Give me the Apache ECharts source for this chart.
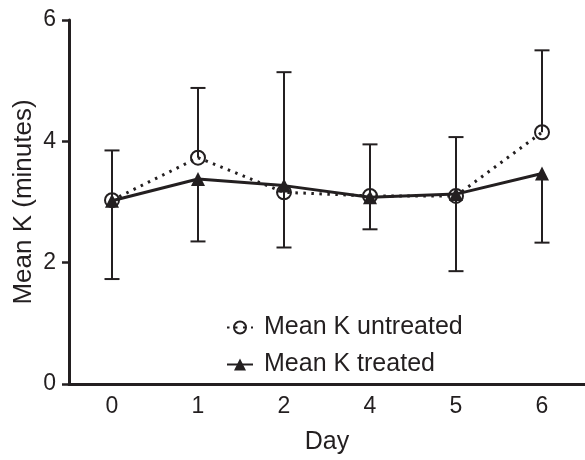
<!DOCTYPE html>
<html>
<head>
<meta charset="utf-8">
<title>Mean K by day</title>
<script src="https://cdn.jsdelivr.net/npm/echarts@6/dist/echarts.min.js"></script>
<style>
    html, body { margin: 0; padding: 0; background: #fff; }
    #mean_k_chart { width: 585px; height: 460px; }
</style>
</head>
<body>
<div id="mean_k_chart"></div>
<script>

// Chart data
// ------------------------------

var days = ['0', '1', '2', '4', '5', '6'];
var untreatedMean = [3.03, 3.73, 3.16, 3.10, 3.10, 4.15];
var untreatedUpper = [3.85, 4.88, 5.14, 3.95, 4.07, 5.50];
var treatedMean = [3.02, 3.38, 3.27, 3.08, 3.13, 3.47];
var treatedLower = [1.73, 2.35, 2.25, 2.55, 1.86, 2.33];
var yTicks = [0, 2, 4, 6];


// Setup module
// ------------------------------

var MeanKChart = function() {

    var _meanKChart = function() {
        if (typeof echarts == 'undefined') {
            console.warn('Warning - echarts.min.js is not loaded.');
            return;
        }

        var chart_element = document.getElementById('mean_k_chart');
        if (!chart_element) {
            return;
        }

        var chart = echarts.init(chart_element, null, { renderer: 'canvas' });

        var ink = '#231f20';
        var fontFamily = 'Arial, "Liberation Sans", sans-serif';

        // Error bar rows: [category index, mean, bound]
        var errorRows = function(means, bounds) {
            return means.map(function(m, i) {
                return [i, m, bounds[i]];
            });
        };

        // Draws one whisker from the mean to the bound, with a cap
        var renderWhisker = function(params, api) {
            var from = api.coord([api.value(0), api.value(1)]);
            var to = api.coord([api.value(0), api.value(2)]);
            var half = 7.5;
            var style = { stroke: ink, lineWidth: 2 };
            return {
                type: 'group',
                children: [
                    {
                        type: 'line',
                        shape: { x1: from[0], y1: from[1], x2: to[0], y2: to[1] },
                        style: style
                    },
                    {
                        type: 'line',
                        shape: { x1: to[0] - half, y1: to[1], x2: to[0] + half, y2: to[1] },
                        style: style
                    }
                ]
            };
        };

        chart.setOption({

            animation: false,

            textStyle: {
                fontFamily: fontFamily,
                color: ink
            },

            grid: {
                left: 69,
                right: -10,
                top: 20,
                bottom: 73,
                containLabel: false
            },

            legend: {
                data: ['Mean K untreated', 'Mean K treated'],
                orient: 'vertical',
                left: 221,
                top: 310,
                itemWidth: 26,
                itemHeight: 15,
                itemGap: 12,
                textStyle: {
                    fontSize: 25,
                    color: ink,
                    padding: [0, 0, 0, 6]
                }
            },

            xAxis: [{
                type: 'category',
                data: days,
                boundaryGap: true,
                name: 'Day',
                nameLocation: 'middle',
                nameGap: 46,
                nameMoveOverlap: false,
                nameTextStyle: {
                    fontSize: 25,
                    color: ink
                },
                axisLine: {
                    lineStyle: { color: ink, width: 3 }
                },
                axisTick: {
                    alignWithLabel: true,
                    length: 6,
                    lineStyle: { color: ink, width: 2.5 }
                },
                axisLabel: {
                    fontSize: 23,
                    color: ink,
                    margin: 11
                },
                splitLine: { show: false }
            }],

            yAxis: [{
                type: 'value',
                min: yTicks[0],
                max: yTicks[yTicks.length - 1],
                interval: 2,
                name: 'Mean K (minutes)',
                nameLocation: 'middle',
                nameGap: 32,
                nameMoveOverlap: false,
                nameTextStyle: {
                    fontSize: 26,
                    color: ink
                },
                axisLine: {
                    show: true,
                    lineStyle: { color: ink, width: 3 }
                },
                axisTick: {
                    show: true,
                    length: 7,
                    lineStyle: { color: ink, width: 2.5 }
                },
                axisLabel: {
                    fontSize: 23,
                    color: ink,
                    margin: 13
                },
                splitLine: { show: false }
            }],

            series: [
                {
                    name: 'untreated whiskers',
                    type: 'custom',
                    renderItem: renderWhisker,
                    encode: { x: 0, y: [1, 2] },
                    data: errorRows(untreatedMean, untreatedUpper),
                    z: 1,
                    silent: true
                },
                {
                    name: 'treated whiskers',
                    type: 'custom',
                    renderItem: renderWhisker,
                    encode: { x: 0, y: [1, 2] },
                    data: errorRows(treatedMean, treatedLower),
                    z: 1,
                    silent: true
                },
                {
                    name: 'Mean K untreated',
                    type: 'line',
                    data: untreatedMean,
                    symbol: 'circle',
                    symbolSize: 14,
                    showAllSymbol: true,
                    lineStyle: {
                        color: ink,
                        width: 3,
                        type: [2.5, 5.5]
                    },
                    itemStyle: {
                        color: 'rgba(255,255,255,0)',
                        borderColor: ink,
                        borderWidth: 2
                    },
                    z: 3
                },
                {
                    name: 'Mean K treated',
                    type: 'line',
                    data: treatedMean,
                    symbol: 'triangle',
                    symbolSize: 14,
                    showAllSymbol: true,
                    lineStyle: {
                        color: ink,
                        width: 3
                    },
                    itemStyle: {
                        color: ink,
                        borderWidth: 0
                    },
                    z: 4
                }
            ]
        });

        window.addEventListener('resize', function() {
            chart.resize();
        });
    };

    return {
        init: function() {
            _meanKChart();
        }
    }
}();


// Initialize module
// ------------------------------

document.addEventListener('DOMContentLoaded', function() {
    MeanKChart.init();
});
</script>
</body>
</html>
